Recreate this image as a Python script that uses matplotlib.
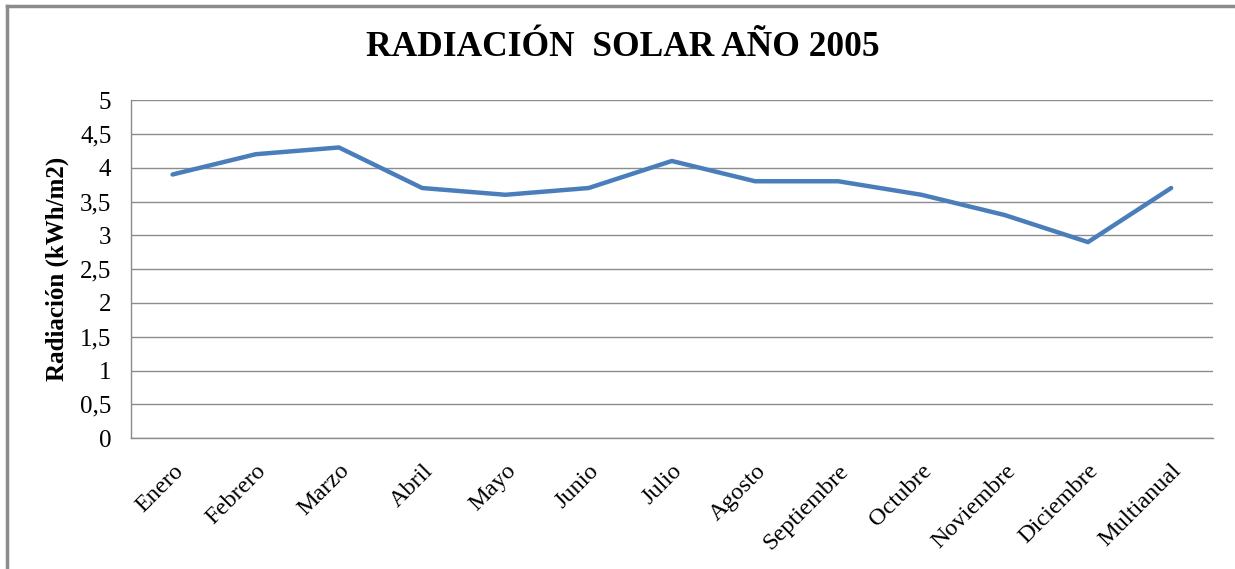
import matplotlib.pyplot as plt
from matplotlib.lines import Line2D

meses = ["Enero", "Febrero", "Marzo", "Abril", "Mayo", "Junio", "Julio",
         "Agosto", "Septiembre", "Octubre", "Noviembre", "Diciembre", "Multianual"]
radiacion = [3.9, 4.2, 4.3, 3.7, 3.6, 3.7, 4.1, 3.8, 3.8, 3.6, 3.3, 2.9, 3.7]
yticks = [0, 0.5, 1, 1.5, 2, 2.5, 3, 3.5, 4, 4.5, 5]
ylabels = ["0", "0,5", "1", "1,5", "2", "2,5", "3", "3,5", "4", "4,5", "5"]

plt.rcParams['font.family'] = ['Liberation Serif', 'DejaVu Serif']

fig = plt.figure(figsize=(12.35, 5.69), dpi=100)
ax = fig.add_axes([0.106, 0.230, 0.876, 0.594])

ax.plot(range(len(meses)), radiacion, color="#4A7EBB", linewidth=3.2,
        solid_capstyle="round", solid_joinstyle="round", zorder=3)

ax.set_xlim(-0.5, len(meses) - 0.5)
ax.set_ylim(0, 5)
ax.set_yticks(yticks)
ax.set_yticklabels(ylabels, fontsize=18)
ax.set_xticks(range(len(meses)))
ax.set_xticklabels(meses, rotation=45, ha="right", rotation_mode="anchor", fontsize=17.5)
ax.tick_params(axis="y", length=0, pad=14)
ax.tick_params(axis="x", length=0, pad=16)
ax.grid(axis="y", color="#8C8C8C", linewidth=1)
ax.set_axisbelow(True)
for s in ["top", "right"]:
    ax.spines[s].set_visible(False)
for s in ["left", "bottom"]:
    ax.spines[s].set_color("#8C8C8C")
    ax.spines[s].set_linewidth(1)

ax.set_ylabel("Radiación (kWh/m2)", fontsize=18, fontweight="bold", labelpad=8)
fig.text(0.504, 0.917, "RADIACIÓN  SOLAR AÑO 2005", ha="center", va="center",
         fontsize=25.5, fontweight="bold")

# marco exterior del grafico
fig.add_artist(Line2D([0.0057, 0.0057], [0, 0.989], color="#8C8C8C", linewidth=2.5))
fig.add_artist(Line2D([0.0057, 1], [0.989, 0.989], color="#8C8C8C", linewidth=2.5))

fig.savefig("out.png", dpi=100)
